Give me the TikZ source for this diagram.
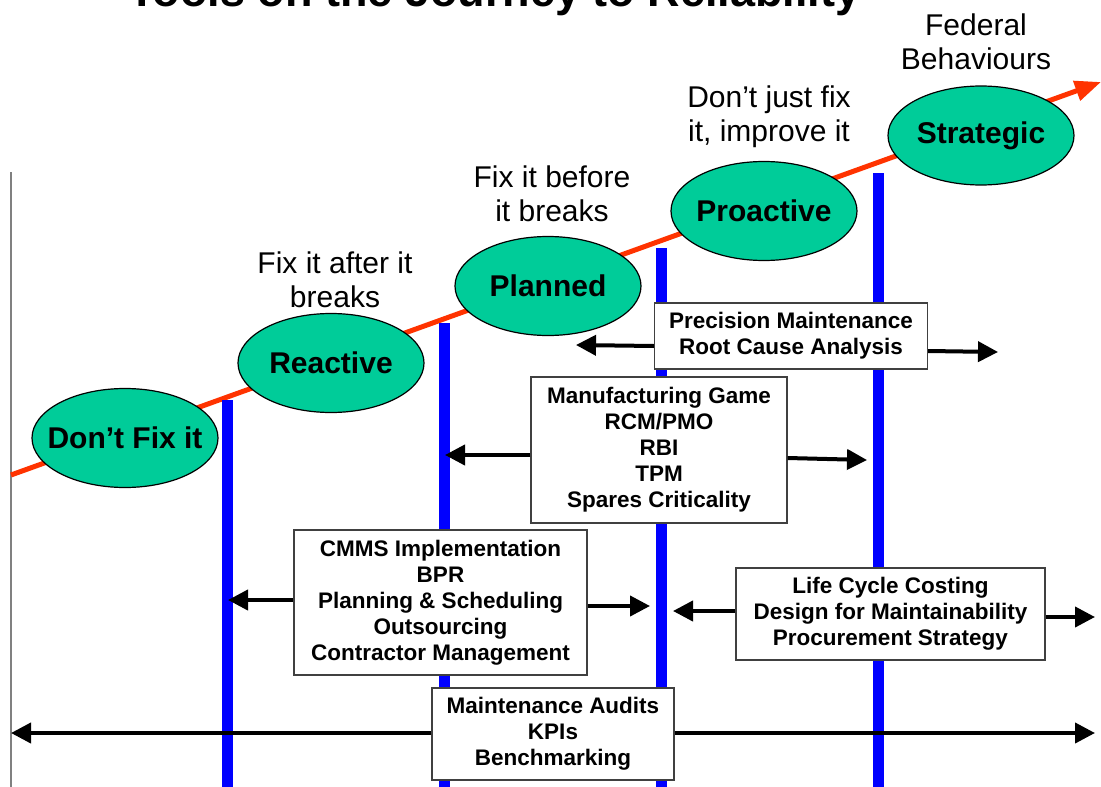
\documentclass[tikz,border=0pt]{standalone}
\usepackage{fontspec}
\setmainfont{Liberation Sans}
\usetikzlibrary{arrows.meta,shapes.geometric}
\definecolor{stagegreen}{RGB}{0,204,153}
\definecolor{journeyred}{RGB}{255,51,0}
\tikzset{
    stage/.style={ellipse,draw,line width=1.2pt,fill=stagegreen,minimum width=186pt,minimum height=99pt,inner xsep=-14pt,inner ysep=0pt,font=\fontsize{30}{34}\selectfont\bfseries},
    motto/.style={align=center,inner sep=0pt,font=\fontsize{30}{34}\selectfont},
    toolbox/.style={draw=black!75,line width=1.2pt,fill=white,align=center,inner sep=0pt,font=\fontsize{22.5}{26}\selectfont\bfseries},
    tool/.style={line width=4pt,-{Triangle[length=20pt,width=20pt]}},
    level/.style={blue,line width=11pt},
}
\begin{document}
\begin{tikzpicture}[x=1pt,y=-1pt]
    \useasboundingbox (0,0) rectangle (1101,787);
    \clip (0,0) rectangle (1101,787);
    \node[anchor=base,inner sep=0pt,font=\fontsize{45}{54}\selectfont\bfseries] (title) at (494.5,6.5) {Tools on the Journey to Reliability};
    \draw[gray,line width=1.5pt] (11,172) -- (11,787);
    \draw[journeyred,line width=5pt,-{Triangle[length=26pt,width=20pt]}] (11,475) -- (1101,82);
    \draw[level] (227,400) -- (227,787);
    \draw[level] (444,323) -- (444,787);
    \draw[level] (661,248) -- (661,787);
    \draw[level] (878,173) -- (878,787);
    \node[stage] (dontfix)   at (125,438)   {Don’t Fix it};
    \node[stage] (reactive)  at (331,363)   {Reactive};
    \node[stage] (planned)   at (548,286)   {Planned};
    \node[stage] (proactive) at (764,211)   {Proactive};
    \node[stage] (strategic) at (981,135.5) {Strategic};
    \node[motto] (after)   at (335,280)   {Fix it after it\\breaks};
    \node[motto] (before)  at (552,193.5) {Fix it before\\it breaks};
    \node[motto] (improve) at (769,117)   {Don’t just fix\\it, improve it};
    \node[motto] (federal) at (976,41.5)  {Federal\\Behaviours};
    \node[toolbox,minimum width=273pt,minimum height=66pt] (precision) at (791,336) {Precision Maintenance\\Root Cause Analysis};
    \node[toolbox,minimum width=256pt,minimum height=146pt] (mfg) at (659,450) {Manufacturing Game\\RCM/PMO\\RBI\\TPM\\Spares Criticality};
    \node[toolbox,minimum width=293pt,minimum height=145pt] (cmms) at (440.5,602.5) {CMMS Implementation\\BPR\\Planning \& Scheduling\\Outsourcing\\Contractor Management};
    \node[toolbox,minimum width=309pt,minimum height=92pt] (lcc) at (890.5,614) {Life Cycle Costing\\Design for Maintainability\\Procurement Strategy};
    \node[toolbox,minimum width=242pt,minimum height=92pt] (audits) at (553,734) {Maintenance Audits\\KPIs\\Benchmarking};
    \coordinate (pmL) at (576,345);
    \coordinate (pmR) at (998,352);
    \coordinate (mfgL) at (445,455);
    \coordinate (mfgR) at (867,460);
    \coordinate (cmmsL) at (228,600);
    \coordinate (cmmsR) at (650,606);
    \coordinate (lccL) at (673,611);
    \coordinate (lccR) at (1095,617);
    \coordinate (auditL) at (11,733);
    \coordinate (auditR) at (1095,733);
    \draw[tool] ([yshift=-10pt]precision.west) -- (pmL);
    \draw[tool] ([yshift=-15pt]precision.east) -- (pmR);
    \draw[tool] ([yshift=-5pt]mfg.west) -- (mfgL);
    \draw[tool] ([yshift=-8pt]mfg.east) -- (mfgR);
    \draw[tool] ([yshift=2.5pt]cmms.west) -- (cmmsL);
    \draw[tool] ([yshift=-3.5pt]cmms.east) -- (cmmsR);
    \draw[tool] ([yshift=3pt]lcc.west) -- (lccL);
    \draw[tool] ([yshift=-3pt]lcc.east) -- (lccR);
    \draw[tool] ([yshift=1pt]audits.west) -- (auditL);
    \draw[tool] ([yshift=1pt]audits.east) -- (auditR);
\end{tikzpicture}
\end{document}
